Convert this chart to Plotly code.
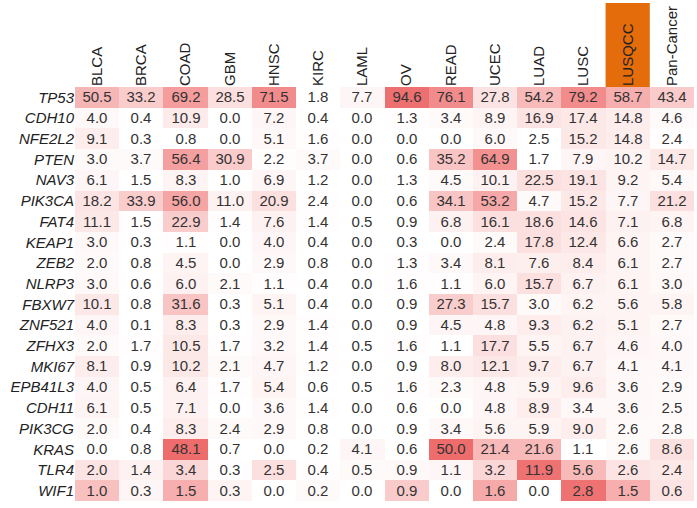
import plotly.graph_objects as go

cancers = ["BLCA", "BRCA", "COAD", "GBM", "HNSC", "KIRC", "LAML", "OV", "READ",
           "UCEC", "LUAD", "LUSC", "LUSQCC", "Pan-Cancer"]
genes = ["TP53", "CDH10", "NFE2L2", "PTEN", "NAV3", "PIK3CA", "FAT4", "KEAP1", "ZEB2",
         "NLRP3", "FBXW7", "ZNF521", "ZFHX3", "MKI67", "EPB41L3", "CDH11", "PIK3CG",
         "KRAS", "TLR4", "WIF1"]

values = [
    [50.5, 33.2, 69.2, 28.5, 71.5, 1.8, 7.7, 94.6, 76.1, 27.8, 54.2, 79.2, 58.7, 43.4],
    [4.0, 0.4, 10.9, 0.0, 7.2, 0.4, 0.0, 1.3, 3.4, 8.9, 16.9, 17.4, 14.8, 4.6],
    [9.1, 0.3, 0.8, 0.0, 5.1, 1.6, 0.0, 0.0, 0.0, 6.0, 2.5, 15.2, 14.8, 2.4],
    [3.0, 3.7, 56.4, 30.9, 2.2, 3.7, 0.0, 0.6, 35.2, 64.9, 1.7, 7.9, 10.2, 14.7],
    [6.1, 1.5, 8.3, 1.0, 6.9, 1.2, 0.0, 1.3, 4.5, 10.1, 22.5, 19.1, 9.2, 5.4],
    [18.2, 33.9, 56.0, 11.0, 20.9, 2.4, 0.0, 0.6, 34.1, 53.2, 4.7, 15.2, 7.7, 21.2],
    [11.1, 1.5, 22.9, 1.4, 7.6, 1.4, 0.5, 0.9, 6.8, 16.1, 18.6, 14.6, 7.1, 6.8],
    [3.0, 0.3, 1.1, 0.0, 4.0, 0.4, 0.0, 0.3, 0.0, 2.4, 17.8, 12.4, 6.6, 2.7],
    [2.0, 0.8, 4.5, 0.0, 2.9, 0.8, 0.0, 1.3, 3.4, 8.1, 7.6, 8.4, 6.1, 2.7],
    [3.0, 0.6, 6.0, 2.1, 1.1, 0.4, 0.0, 1.6, 1.1, 6.0, 15.7, 6.7, 6.1, 3.0],
    [10.1, 0.8, 31.6, 0.3, 5.1, 0.4, 0.0, 0.9, 27.3, 15.7, 3.0, 6.2, 5.6, 5.8],
    [4.0, 0.1, 8.3, 0.3, 2.9, 1.4, 0.0, 0.9, 4.5, 4.8, 9.3, 6.2, 5.1, 2.7],
    [2.0, 1.7, 10.5, 1.7, 3.2, 1.4, 0.5, 1.6, 1.1, 17.7, 5.5, 6.7, 4.6, 4.0],
    [8.1, 0.9, 10.2, 2.1, 4.7, 1.2, 0.0, 0.9, 8.0, 12.1, 9.7, 6.7, 4.1, 4.1],
    [4.0, 0.5, 6.4, 1.7, 5.4, 0.6, 0.5, 1.6, 2.3, 4.8, 5.9, 9.6, 3.6, 2.9],
    [6.1, 0.5, 7.1, 0.0, 3.6, 1.4, 0.0, 0.6, 0.0, 4.8, 8.9, 3.4, 3.6, 2.5],
    [2.0, 0.4, 8.3, 2.4, 2.9, 0.8, 0.0, 0.9, 3.4, 5.6, 5.9, 9.0, 2.6, 2.8],
    [0.0, 0.8, 48.1, 0.7, 0.0, 0.2, 4.1, 0.6, 50.0, 21.4, 21.6, 1.1, 2.6, 8.6],
    [2.0, 1.4, 3.4, 0.3, 2.5, 0.4, 0.5, 0.9, 1.1, 3.2, 11.9, 5.6, 2.6, 2.4],
    [1.0, 0.3, 1.5, 0.3, 0.0, 0.2, 0.0, 0.9, 0.0, 1.6, 0.0, 2.8, 1.5, 0.6],
]

# cell shading intensity (0 = white, 1 = deepest red)
shade = [
    [0.38, 0.25, 0.52, 0.15, 0.62, 0.0, 0.04, 0.80, 0.62, 0.13, 0.36, 0.62, 0.42, 0.26],
    [0.03, 0.0, 0.09, 0.0, 0.04, 0.0, 0.0, 0.01, 0.02, 0.05, 0.12, 0.10, 0.08, 0.02],
    [0.08, 0.0, 0.0, 0.0, 0.03, 0.01, 0.0, 0.0, 0.0, 0.03, 0.0, 0.10, 0.08, 0.01],
    [0.02, 0.02, 0.50, 0.26, 0.01, 0.02, 0.0, 0.0, 0.30, 0.60, 0.0, 0.04, 0.05, 0.10],
    [0.04, 0.0, 0.05, 0.0, 0.04, 0.0, 0.0, 0.0, 0.02, 0.06, 0.15, 0.12, 0.05, 0.03],
    [0.12, 0.25, 0.47, 0.06, 0.15, 0.01, 0.0, 0.0, 0.30, 0.46, 0.02, 0.10, 0.04, 0.15],
    [0.10, 0.01, 0.25, 0.01, 0.06, 0.01, 0.0, 0.0, 0.06, 0.15, 0.15, 0.12, 0.06, 0.05],
    [0.03, 0.0, 0.01, 0.0, 0.04, 0.0, 0.0, 0.0, 0.0, 0.02, 0.15, 0.10, 0.05, 0.02],
    [0.02, 0.0, 0.05, 0.0, 0.03, 0.0, 0.0, 0.01, 0.03, 0.08, 0.07, 0.08, 0.05, 0.02],
    [0.03, 0.0, 0.06, 0.02, 0.01, 0.0, 0.0, 0.01, 0.01, 0.05, 0.15, 0.06, 0.05, 0.03],
    [0.10, 0.0, 0.30, 0.0, 0.05, 0.0, 0.0, 0.0, 0.25, 0.15, 0.02, 0.05, 0.05, 0.05],
    [0.04, 0.0, 0.08, 0.0, 0.03, 0.01, 0.0, 0.0, 0.04, 0.04, 0.08, 0.06, 0.05, 0.02],
    [0.02, 0.01, 0.10, 0.01, 0.03, 0.01, 0.0, 0.01, 0.0, 0.15, 0.05, 0.06, 0.04, 0.03],
    [0.08, 0.0, 0.10, 0.02, 0.04, 0.01, 0.0, 0.0, 0.08, 0.10, 0.08, 0.06, 0.03, 0.03],
    [0.04, 0.0, 0.06, 0.01, 0.05, 0.0, 0.0, 0.01, 0.02, 0.04, 0.05, 0.08, 0.03, 0.02],
    [0.05, 0.0, 0.06, 0.0, 0.03, 0.01, 0.0, 0.0, 0.0, 0.04, 0.08, 0.03, 0.03, 0.02],
    [0.02, 0.0, 0.08, 0.02, 0.03, 0.0, 0.0, 0.0, 0.03, 0.05, 0.05, 0.08, 0.02, 0.02],
    [0.0, 0.0, 0.82, 0.0, 0.0, 0.0, 0.04, 0.0, 0.82, 0.36, 0.36, 0.0, 0.02, 0.14],
    [0.12, 0.06, 0.20, 0.01, 0.15, 0.01, 0.02, 0.03, 0.04, 0.20, 0.78, 0.36, 0.12, 0.10],
    [0.32, 0.04, 0.42, 0.05, 0.0, 0.02, 0.0, 0.26, 0.0, 0.45, 0.0, 0.78, 0.42, 0.12],
]

highlight = "LUSQCC"

text = [[f"{v:.1f}" for v in row] for row in values]

FONT = "Liberation Sans, Arial, sans-serif"

fig = go.Figure(go.Heatmap(
    z=shade,
    x=cancers,
    y=genes,
    text=text,
    texttemplate="%{text}",
    textfont=dict(family=FONT, size=15, color="#333333"),
    colorscale=[[0, "rgb(255,255,255)"], [0.1, "rgb(253,232,232)"],
                [0.5, "rgb(245,160,160)"], [1, "rgb(234,78,78)"]],
    zmin=0, zmax=1,
    showscale=False,
    hoverinfo="skip",
))

plot_h = 508 - 87 - 7
fig.add_shape(
    type="rect", xref="x", yref="paper",
    x0=cancers.index(highlight) - 0.5, x1=cancers.index(highlight) + 0.5,
    y0=1.0, y1=1.0 + 84 / plot_h,
    fillcolor="rgb(228,108,10)", line=dict(width=0), layer="below",
)

fig.update_layout(
    width=697, height=508,
    margin=dict(l=75, r=3, t=87, b=7),
    paper_bgcolor="white", plot_bgcolor="white",
    font=dict(family=FONT, size=15, color="#222222"),
    xaxis=dict(side="top", tickangle=-90, showgrid=False, zeroline=False,
               ticks="", ticklen=0, tickfont=dict(size=15, color="#222222"),
               fixedrange=True),
    yaxis=dict(autorange="reversed", showgrid=False, zeroline=False, ticks="",
               tickvals=genes, ticktext=[f"<i>{g}</i>" for g in genes],
               tickfont=dict(size=15, color="#222222"), fixedrange=True),
)

fig.write_html("out.html", config={"displayModeBar": False},
               post_script="document.body.style.margin='0';")
